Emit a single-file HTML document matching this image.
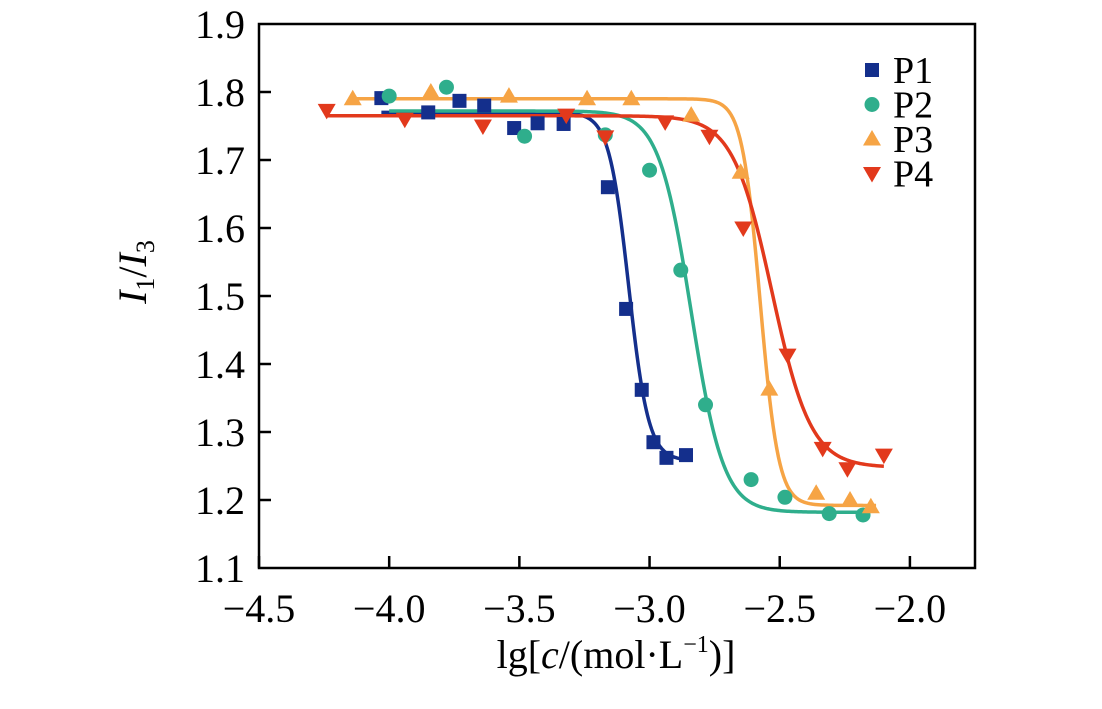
<!DOCTYPE html>
<html><head><meta charset="utf-8"><style>
html,body{margin:0;padding:0;background:#fff;}
svg{display:block;font-family:"Liberation Serif",serif;}
</style></head><body>
<svg id="chart" width="1102" height="709" viewBox="0 0 1102 709" xmlns="http://www.w3.org/2000/svg">
<g id="curves"></g>
<g id="marks"></g>
<rect x="259" y="24" width="716" height="544" fill="none" stroke="#000" stroke-width="2.5"/>
<g id="axes"></g>
<g id="legend"></g>
<text transform="translate(146,272) rotate(-90)" text-anchor="middle" font-size="40"><tspan font-style="italic">I</tspan><tspan font-size="26" dy="8">1</tspan><tspan dy="-8">/</tspan><tspan font-style="italic">I</tspan><tspan font-size="26" dy="8">3</tspan></text>
<text x="616" y="668" text-anchor="middle" font-size="40">lg[<tspan font-style="italic">c</tspan>/(mol·L<tspan font-size="24" dy="-16">−1</tspan><tspan dy="16">)]</tspan></text>
</svg>
<script>
const xTicks = [-4.5, -4.0, -3.5, -3.0, -2.5, -2.0];
const xTickLabels = ["−4.5", "−4.0", "−3.5", "−3.0", "−2.5", "−2.0"];
const yTicks = [1.1, 1.2, 1.3, 1.4, 1.5, 1.6, 1.7, 1.8, 1.9];
const yTickLabels = ["1.1", "1.2", "1.3", "1.4", "1.5", "1.6", "1.7", "1.8", "1.9"];
const seriesNames = ["P1", "P2", "P3", "P4"];
const p1X = [-4.03, -3.85, -3.73, -3.635, -3.52, -3.43, -3.33, -3.16, -3.09, -3.03, -2.985, -2.935, -2.86];
const p1Y = [1.791, 1.770, 1.787, 1.780, 1.747, 1.754, 1.753, 1.660, 1.481, 1.362, 1.285, 1.262, 1.266];
const p2X = [-4.0, -3.78, -3.48, -3.17, -3.0, -2.88, -2.785, -2.61, -2.48, -2.31, -2.18];
const p2Y = [1.794, 1.807, 1.735, 1.737, 1.685, 1.538, 1.340, 1.230, 1.204, 1.180, 1.178];
const p3X = [-4.14, -3.84, -3.54, -3.24, -3.07, -2.84, -2.65, -2.54, -2.36, -2.23, -2.15];
const p3Y = [1.790, 1.800, 1.794, 1.790, 1.790, 1.766, 1.682, 1.363, 1.210, 1.200, 1.190];
const p4X = [-4.24, -3.94, -3.64, -3.32, -3.17, -2.94, -2.77, -2.64, -2.47, -2.335, -2.24, -2.1];
const p4Y = [1.773, 1.760, 1.750, 1.766, 1.734, 1.756, 1.735, 1.600, 1.413, 1.276, 1.246, 1.266];
// Boltzmann fit parameters
const fitTop = [1.770, 1.772, 1.790, 1.765];
const fitBottom = [1.258, 1.182, 1.192, 1.248];
const fitCenter = [-3.08, -2.84, -2.575, -2.53];
const fitWidth = [0.038, 0.062, 0.035, 0.075];
const fitStart = [-4.03, -4.0, -4.14, -4.24];
const fitEnd = [-2.86, -2.18, -2.13, -2.1];

const colors = ["#142f8c", "#2fae8c", "#f6a445", "#e2391c"];
const shapes = ["square", "circle", "up", "down"];
const X0 = 259, X1 = 975, Y0 = 568, Y1 = 24;
const xMin = -4.5, xMax = -1.75, yMin = 1.1, yMax = 1.9;
const sx = v => X0 + (v - xMin) / (xMax - xMin) * (X1 - X0);
const sy = v => Y0 - (v - yMin) / (yMax - yMin) * (Y0 - Y1);
const NS = "http://www.w3.org/2000/svg";
function mk(tag, attrs, parent) { const e = document.createElementNS(NS, tag); for (const k in attrs) e.setAttribute(k, attrs[k]); parent.appendChild(e); return e; }
const axes = document.getElementById('axes');
xTicks.forEach((t, i) => {
  const x = sx(t);
  const l = mk('line', {x1: x, x2: x, y1: Y0, y2: Y0 - 12, stroke: '#000', 'stroke-width': 2.5}, axes);
  
  
  const tx = mk('text', {x: x, y: 622, 'text-anchor': 'middle', 'font-size': 40}, axes);
  tx.textContent = xTickLabels[i];
  
  
});
yTicks.forEach((t, i) => {
  const y = sy(t);
  if (i > 0 && i < yTicks.length - 1) {
    const l = mk('line', {x1: X0, x2: X0 + 12, y1: y, y2: y, stroke: '#000', 'stroke-width': 2.5}, axes);
    
    
  }
  const tx = mk('text', {x: 245, y: y + 14, 'text-anchor': 'end', 'font-size': 40}, axes);
  tx.textContent = yTickLabels[i];
  
  
});
const curves = document.getElementById('curves');
for (let s = 0; s < 4; s++) {
  let d = '';
  const n = 300;
  for (let k = 0; k <= n; k++) {
    const x = fitStart[s] + (fitEnd[s] - fitStart[s]) * k / n;
    const y = fitBottom[s] + (fitTop[s] - fitBottom[s]) / (1 + Math.exp((x - fitCenter[s]) / fitWidth[s]));
    d += (k ? 'L' : 'M') + sx(x).toFixed(2) + ',' + sy(y).toFixed(2);
  }
  const p = mk('path', {d: d, fill: 'none', stroke: colors[s], 'stroke-width': 3.5}, curves);
  
  
}
function marker(shape, x, y, c, parent) {
  let e;
  if (shape === 'square') e = mk('rect', {x: x - 7, y: y - 7, width: 14, height: 14, fill: c}, parent);
  else if (shape === 'circle') e = mk('circle', {cx: x, cy: y, r: 7.5, fill: c}, parent);
  else if (shape === 'up') e = mk('polygon', {points: `${x},${y - 9} ${x - 9},${y + 6.5} ${x + 9},${y + 6.5}`, fill: c}, parent);
  else e = mk('polygon', {points: `${x},${y + 9} ${x - 9},${y - 6.5} ${x + 9},${y - 6.5}`, fill: c}, parent);
  return e;
}
const marks = document.getElementById('marks');
const xs = [p1X, p2X, p3X, p4X], ys = [p1Y, p2Y, p3Y, p4Y];
for (let s = 0; s < 4; s++) {
  for (let i = 0; i < xs[s].length; i++) {
    const m = marker(shapes[s], sx(xs[s][i]), sy(ys[s][i]), colors[s], marks);
    
    
  }
}
const legend = document.getElementById('legend');
for (let s = 0; s < 4; s++) {
  const y = 70 + s * 34.5;
  const m = marker(shapes[s], 872, y, colors[s], legend);
  
  
  const t = mk('text', {x: 893, y: y + 13, 'font-size': 38}, legend);
  t.textContent = seriesNames[s];
  
  
}
</script>
</body></html>
